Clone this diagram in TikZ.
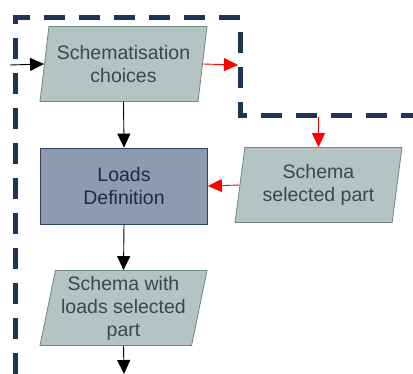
\documentclass[tikz,border=0pt]{standalone}
\usepackage{fontspec}
\setmainfont{Liberation Sans}
\usetikzlibrary{shapes.geometric,arrows.meta}
\definecolor{datafill}{HTML}{B4C3C3}
\definecolor{datadraw}{HTML}{6F8787}
\definecolor{datatext}{HTML}{3D4848}
\definecolor{procfill}{HTML}{8D9AB0}
\definecolor{procdraw}{HTML}{2E4468}
\definecolor{proctext}{HTML}{1C2B44}
\definecolor{frame}{HTML}{1F3558}
\begin{document}
\begin{tikzpicture}[x=1pt,y=-1pt]

    \tikzset{
      data/.style={
        trapezium,
        trapezium left angle=76.5,
        trapezium right angle=103.5,
        trapezium stretches body,
        draw=datadraw,
        line width=0.8pt,
        fill=datafill,
        text=datatext,
        minimum width=167pt,
        minimum height=75pt,
        inner sep=0pt,
        align=center,
        font=\fontsize{19.5}{23}\selectfont,
      },
      process/.style={
        rectangle,
        draw=procdraw,
        line width=0.8pt,
        fill=procfill,
        text=proctext,
        minimum width=167pt,
        minimum height=76pt,
        inner sep=0pt,
        align=center,
        font=\fontsize{19.5}{23}\selectfont,
      },
      flow/.style={-{Triangle[length=14pt,width=13pt]},line width=0.9pt,black},
      redflow/.style={-{Triangle[length=14pt,width=13pt]},line width=0.9pt,red},
    }
    \useasboundingbox (0,0) rectangle (413,374);
	\draw[frame,line width=5pt,dash pattern=on 21pt off 14pt] (15,374)--(15,18)--(240,18)--(240,116)--(413,116);
	\node[data] (choices) at (123.5,64) {Schematisation\\choices};
	\node[process] (loads) at (124,186) {Loads\\Definition};
	\node[data] (selpart) at (318.5,185) {Schema\\selected part};
	\node[data] (withloads) at (123.5,308) {Schema with\\loads selected\\part};
	\coordinate (in) at (10,65);
	\coordinate (out) at (238,65);
	\coordinate (tap) at (318.5,117);
	\coordinate (down) at (124,374);
	\draw[flow] (in)--(choices.west);
	\draw[redflow] (choices.east)--(out);
	\draw[redflow] (tap)--(selpart.north);
	\draw[redflow] (selpart.west)--(loads.east);
	\draw[flow] (choices.south)--(loads.north);
	\draw[flow] (loads.south)--(withloads.north);
	\draw[flow] (withloads.south)--(down);

\end{tikzpicture}
\end{document}
